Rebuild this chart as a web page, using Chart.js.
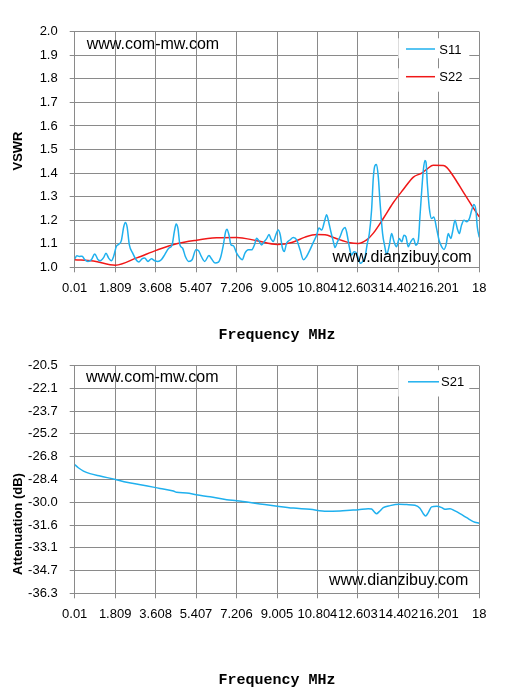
<!DOCTYPE html>
<html>
<head>
<meta charset="utf-8">
<script src="https://cdn.jsdelivr.net/npm/chart.js@4"></script>
<style>
  html,body{margin:0;padding:0;background:#fff;}
  canvas{position:absolute;left:0;}
  #vswr{top:0;}
  #att{top:346px;}
</style>
</head>
<body>
<canvas id="vswr" width="508" height="346"></canvas>
<canvas id="att" width="508" height="347"></canvas>
<script>
/* ── data ── */
const freqLabels=['0.01','1.809','3.608','5.407','7.206','9.005','10.804','12.603','14.402','16.201','18'];
const freqTicks=freqLabels.map(Number);
const vswrTicks=[1.0,1.1,1.2,1.3,1.4,1.5,1.6,1.7,1.8,1.9,2.0];
const attTicks=[-36.3,-34.7,-33.1,-31.6,-30.0,-28.4,-26.8,-25.2,-23.7,-22.1,-20.5];

const s11Freq=[0.01,0.11,0.22,0.34,0.46,0.60,0.75,0.90,1.05,1.15,1.30,1.40,1.52,1.64,1.74,1.86,1.97,2.08,2.19,2.26,2.34,2.44,2.59,2.74,2.86,3.00,3.12,3.27,3.42,3.57,3.71,3.86,4.01,4.19,4.34,4.44,4.52,4.60,4.69,4.81,4.93,5.08,5.23,5.40,5.52,5.64,5.79,5.98,6.10,6.25,6.40,6.51,6.62,6.72,6.78,6.87,6.96,7.06,7.21,7.36,7.46,7.58,7.73,7.88,8.00,8.10,8.20,8.32,8.44,8.55,8.65,8.74,8.84,8.95,9.06,9.15,9.24,9.33,9.43,9.58,9.73,9.88,10.03,10.18,10.32,10.47,10.62,10.77,10.87,10.99,11.11,11.21,11.32,11.40,11.51,11.58,11.70,11.81,11.93,12.03,12.10,12.22,12.32,12.43,12.55,12.62,12.72,12.81,12.92,13.02,13.11,13.21,13.29,13.36,13.43,13.51,13.58,13.70,13.80,13.88,14.00,14.10,14.21,14.32,14.44,14.55,14.65,14.74,14.84,14.95,15.07,15.18,15.29,15.36,15.44,15.51,15.58,15.63,15.69,15.78,15.88,15.98,16.10,16.21,16.33,16.43,16.52,16.62,16.73,16.81,16.92,17.02,17.11,17.21,17.32,17.44,17.56,17.66,17.76,17.85,17.91,18.00];
const s11Vswr=[1.036,1.049,1.046,1.047,1.032,1.025,1.032,1.056,1.032,1.028,1.042,1.060,1.039,1.028,1.046,1.088,1.098,1.112,1.172,1.190,1.172,1.095,1.060,1.032,1.022,1.036,1.039,1.025,1.036,1.028,1.025,1.032,1.053,1.081,1.095,1.151,1.184,1.165,1.095,1.081,1.046,1.025,1.032,1.074,1.070,1.046,1.025,1.050,1.035,1.018,1.022,1.046,1.095,1.151,1.162,1.137,1.095,1.092,1.060,1.039,1.032,1.060,1.074,1.074,1.095,1.123,1.112,1.095,1.109,1.123,1.139,1.120,1.109,1.137,1.158,1.137,1.084,1.067,1.102,1.116,1.126,1.116,1.074,1.032,1.046,1.074,1.106,1.137,1.167,1.158,1.192,1.223,1.185,1.151,1.109,1.084,1.110,1.130,1.160,1.169,1.150,1.087,1.052,1.066,1.059,1.038,1.017,1.024,1.045,1.101,1.143,1.242,1.383,1.432,1.436,1.383,1.284,1.143,1.087,1.055,1.094,1.143,1.108,1.087,1.122,1.108,1.136,1.129,1.087,1.108,1.122,1.094,1.115,1.214,1.326,1.411,1.453,1.446,1.354,1.249,1.207,1.214,1.165,1.115,1.087,1.076,1.094,1.143,1.122,1.150,1.200,1.165,1.143,1.179,1.200,1.193,1.207,1.242,1.267,1.242,1.172,1.127];

const s22Freq=[0.01,0.84,1.82,2.77,3.66,4.54,5.43,6.32,7.21,8.10,9.02,9.66,10.25,10.77,11.14,11.58,12.25,12.62,12.99,13.29,13.73,14.18,14.62,15.07,15.44,15.69,15.95,16.40,16.55,16.92,17.29,17.66,18.00];
const s22Vswr=[1.032,1.027,1.009,1.040,1.073,1.100,1.115,1.125,1.127,1.113,1.097,1.105,1.128,1.139,1.138,1.124,1.104,1.101,1.116,1.145,1.207,1.275,1.330,1.383,1.400,1.418,1.433,1.432,1.424,1.376,1.319,1.263,1.214];

const s21Freq=[0.01,0.17,0.40,0.69,1.14,1.82,2.32,3.06,3.80,4.40,4.54,4.99,5.42,6.03,6.77,7.21,8.25,9.02,9.73,10.47,11.21,11.81,12.25,12.62,13.06,13.21,13.36,13.43,13.55,13.73,14.03,14.44,14.77,15.14,15.36,15.51,15.61,15.73,15.88,16.10,16.33,16.47,16.70,16.92,17.14,17.44,17.73,18.00];
const s21Att=[-27.36,-27.58,-27.81,-27.99,-28.16,-28.39,-28.59,-28.79,-29.02,-29.20,-29.29,-29.33,-29.46,-29.60,-29.80,-29.87,-30.09,-30.25,-30.38,-30.47,-30.61,-30.58,-30.53,-30.49,-30.42,-30.45,-30.70,-30.77,-30.63,-30.35,-30.21,-30.12,-30.14,-30.19,-30.39,-30.77,-30.93,-30.70,-30.30,-30.26,-30.35,-30.47,-30.42,-30.58,-30.77,-31.05,-31.32,-31.44];

/* ── look ── */
const BLUE='#1fb0ee', RED='#f01818', GRID='#8a8a8a';
const SANS='"Liberation Sans", Arial, sans-serif';

const pts=(xs,ys)=>xs.map((x,i)=>({x,y:ys[i]}));

function series(label,xs,ys,color) {
    return {label,data:pts(xs,ys),borderColor:color,backgroundColor:color,borderWidth:1.5,
        pointRadius:0,cubicInterpolationMode:'monotone',fill:false};
}

// watermarks, in-plot legend and the y title
const overlay={
    id:'overlay',
    afterDraw(chart,args,o) {
        const {ctx,chartArea:a}=chart;
        ctx.save();
        ctx.fillStyle='#000';
        ctx.textBaseline='middle';
        ctx.font='16px '+SANS;
        ctx.textAlign='left';
        ctx.fillText('www.com-mw.com',a.left+o.markA[0],a.top+o.markA[1]);
        ctx.textAlign='right';
        ctx.fillText('www.dianzibuy.com',a.right-o.markB[0],a.bottom-o.markB[1]);

        ctx.font='13px '+SANS;
        ctx.textAlign='left';
        chart.data.datasets.forEach((ds,i)=>{
            const r=o.rows[i];
            ctx.fillStyle='#fff';
            ctx.fillRect(a.right-81,a.top+r[0],71,r[1]-r[0]);
            ctx.strokeStyle=ds.borderColor; ctx.lineWidth=1.5;
            ctx.beginPath();
            ctx.moveTo(a.right-o.line[0],a.top+r[2]);
            ctx.lineTo(a.right-o.line[1],a.top+r[2]);
            ctx.stroke();
            ctx.fillStyle='#000';
            ctx.fillText(ds.label,a.right-o.line[2],a.top+r[2]+1);
        });

        ctx.translate(o.yTitle[0],o.yTitle[1]);
        ctx.rotate(-Math.PI/2);
        ctx.textAlign='center';
        ctx.font='bold 13px '+SANS;
        ctx.fillText(o.yText,0,0);
        ctx.restore();
    }
};

function axes(yTicks,yFmt,xHeight,titlePad) {
    return {
        x:{type:'linear',min:0.01,max:18,
            afterBuildTicks:s=>{s.ticks=freqTicks.map(v=>({value:v}));},
            afterFit:s=>{s.height=xHeight;},
            ticks:{autoSkip:false,maxRotation:0,minRotation:0,padding:8,color:'#000',
                font:{family:SANS,size:13},callback:(v,i)=>freqLabels[i]},
            grid:{color:GRID,tickLength:5},
            border:{color:GRID},
            title:{display:true,text:'Frequency MHz',color:'#000',
                font:{family:'"Liberation Mono", "Courier New", monospace',size:15,weight:'bold'},
                padding:{top:0,bottom:titlePad}}},
        y:{min:yTicks[0],max:yTicks[yTicks.length-1],
            afterBuildTicks:s=>{s.ticks=yTicks.map(v=>({value:v}));},
            afterFit:s=>{s.width=74.7;},
            ticks:{padding:12,color:'#000',font:{family:SANS,size:13},callback:yFmt},
            grid:{color:GRID,tickLength:5},
            border:{color:GRID}}
    };
}

new Chart(document.getElementById('vswr'),{
    type:'line',
    data:{datasets:[series('S11',s11Freq,s11Vswr,BLUE),series('S22',s22Freq,s22Vswr,RED)]},
    options:{
        responsive:false,animation:false,
        layout:{padding:{left:0,right:28.7,top:31.7,bottom:0}},
        plugins:{legend:{display:false},tooltip:{enabled:false},
            overlay:{markA:[12,13.3],markB:[7.6,10],line:[73.3,44.3,40],
                rows:[[6.6,26.6,17.3],[36.6,60,45]],yTitle:[18,151],yText:'VSWR'}},
        scales:axes(vswrTicks,v=>v.toFixed(1),78.7,1.3)
    },
    plugins:[overlay]
});

new Chart(document.getElementById('att'),{
    type:'line',
    data:{datasets:[series('S21',s21Freq,s21Att,BLUE)]},
    options:{
        responsive:false,animation:false,
        layout:{padding:{left:0,right:28.7,top:11.3,bottom:0}},
        plugins:{legend:{display:false},tooltip:{enabled:false},
            overlay:{markA:[11.3,12],markB:[11,12.6],line:[71.3,40.3,38.3],
                rows:[[4.4,30.7,16]],yTitle:[18,178],yText:'Attenuation (dB)'}},
        scales:axes(attTicks,v=>v.toFixed(1),99.7,4)
    },
    plugins:[overlay]
});
</script>
</body>
</html>
